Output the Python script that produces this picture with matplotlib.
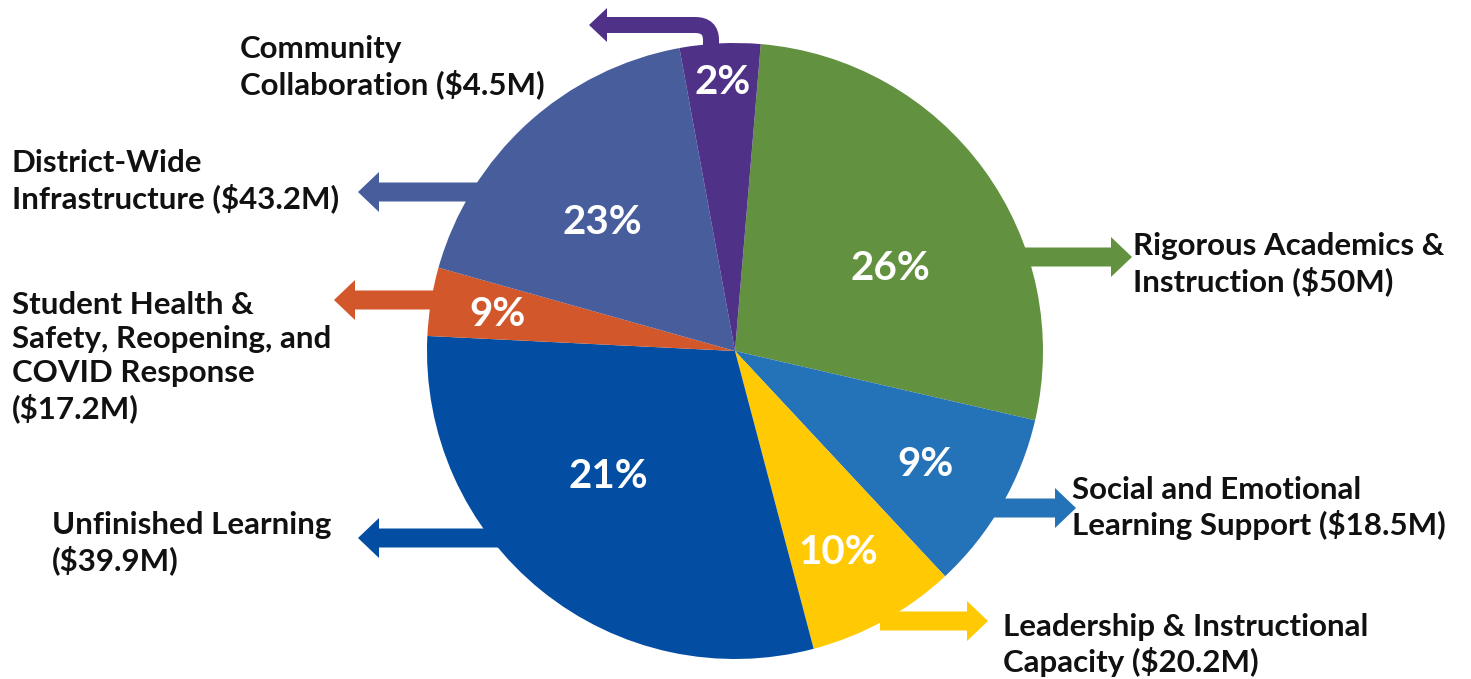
import matplotlib.pyplot as plt
from matplotlib.patches import FancyArrow, PathPatch, Polygon
from matplotlib.path import Path

# slices clockwise from the top, sizes as drawn (degrees)
names = ['Rigorous Academics &\nInstruction ($50M)',
         'Social and Emotional\nLearning Support ($18.5M)',
         'Leadership & Instructional\nCapacity ($20.2M)',
         'Unfinished Learning\n($39.9M)',
         'Student Health &\nSafety, Reopening, and\nCOVID Response\n($17.2M)',
         'District-Wide\nInfrastructure ($43.2M)',
         'Community\nCollaboration ($4.5M)']
slice_deg = [98.2, 34.0, 28.2, 107.6, 12.9, 63.9, 15.2]
pct_text = ['26%', '9%', '10%', '21%', '9%', '23%', '2%']
colors = ['#62923f', '#2473b9', '#ffc904', '#034ea2', '#d2572a', '#475d9c', '#4f3187']

W, H = 1471, 679
fig = plt.figure(figsize=(W / 100, H / 100), dpi=100)
ax = fig.add_axes([0, 0, 1, 1])

def Y(y):
    # picture rows -> data y
    return H - y

cx, cy, r = 735, Y(351), 308
ax.pie(slice_deg, colors=colors, startangle=85.2, counterclock=False,
       center=(cx, cy), radius=r, wedgeprops={'linewidth': 0, 'zorder': 3})

# percentage labels
pct_pos = [(890, 268), (926, 465), (838, 552), (608, 477), (498, 314), (602, 222), (723, 83)]
for t, (x, y) in zip(pct_text, pct_pos):
    ax.text(x, Y(y), t, color='white', fontsize=29, fontweight='bold',
            family='Lato', ha='center', va='center', zorder=5)

# straight block arrows: (tail x, tip x, y)
arrows = [(980, 1132, 257), (960, 1076, 508), (880, 988, 621),
          (520, 358, 538), (480, 334, 300), (520, 358, 192)]
arrow_cols = [colors[0], colors[1], colors[2], colors[3], colors[4], colors[5]]
for (x0, x1, y), c in zip(arrows, arrow_cols):
    ax.add_patch(FancyArrow(x0, Y(y), x1 - x0, 0, width=19, head_width=40,
                            head_length=21, length_includes_head=True,
                            color=c, lw=0, zorder=2))

# elbow arrow for the purple slice
verts = [(711, Y(80)), (711, Y(40)), (711, Y(25)), (695, Y(25)), (604, Y(25))]
codes = [Path.MOVETO, Path.LINETO, Path.CURVE3, Path.CURVE3, Path.LINETO]
ax.add_patch(PathPatch(Path(verts, codes), fill=False, edgecolor=colors[6],
                       lw=16 * 72 / 100, capstyle='butt', zorder=2))
ax.add_patch(Polygon([(607, Y(8)), (589, Y(25)), (607, Y(42))], closed=True,
                     color=colors[6], lw=0, zorder=2))

# category labels: (left x, vertical centre)
label_pos = [(1133, 264), (1072, 508), (1003, 645), (52, 543),
             (12, 357), (12, 181), (240, 67)]
for t, (x, y) in zip(names, label_pos):
    ax.text(x, Y(y), t, fontsize=22.5, fontweight='bold', family='Lato',
            color='#111111', ha='left', va='center', linespacing=1.26)

ax.set_xlim(0, W)
ax.set_ylim(0, H)
ax.set_aspect('equal')
ax.axis('off')
fig.savefig('out.png', dpi=100)
